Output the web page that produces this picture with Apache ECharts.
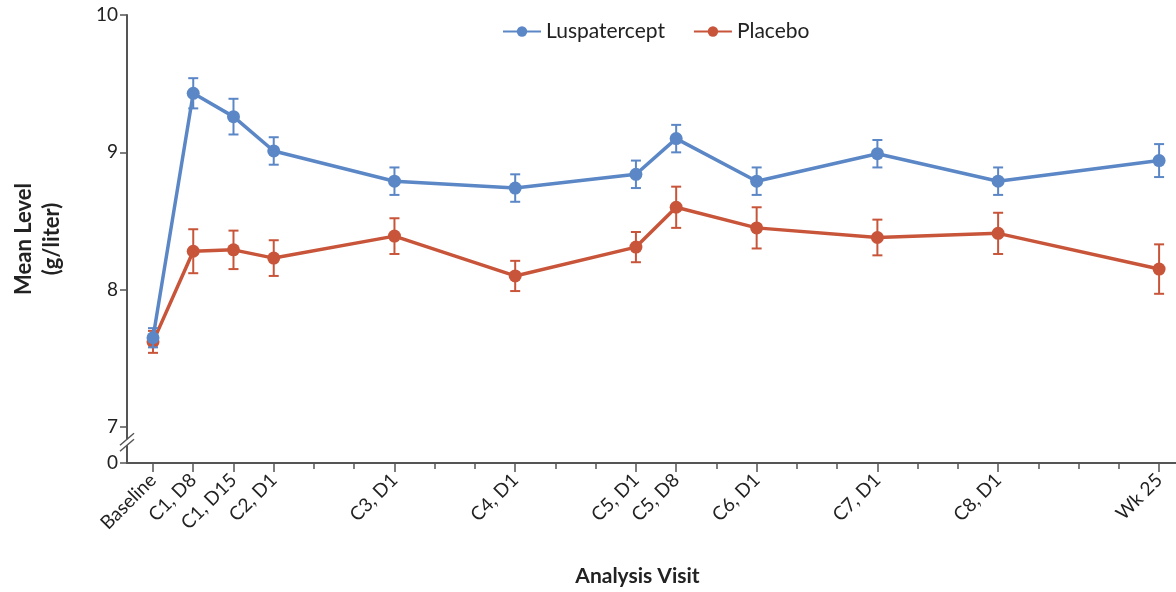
<!DOCTYPE html>
<html>
<head>
<meta charset="utf-8">
<script src="https://cdn.jsdelivr.net/npm/echarts@6/dist/echarts.min.js"></script>
<style>
  html, body { margin: 0; padding: 0; background: #fff; }
  #chart { width: 1176px; height: 592px; }
</style>
</head>
<body>
<div id="chart"></div>
<script>
// Visit positions in study weeks, with their labels
const visitWeeks = [0, 1, 2, 3, 6, 9, 12, 13, 15, 18, 21, 25];
const visitLabels = ['Baseline', 'C1, D8', 'C1, D15', 'C2, D1', 'C3, D1', 'C4, D1', 'C5, D1', 'C5, D8', 'C6, D1', 'C7, D1', 'C8, D1', 'Wk 25'];
const weekTicks = [0,1,2,3,4,5,6,7,8,9,10,11,12,13,14,15,16,17,18,19,20,21,22,23,24,25];

// Mean level (g/liter) and error half-widths
const lusMean = [7.65, 9.43, 9.26, 9.01, 8.79, 8.74, 8.84, 9.10, 8.79, 8.99, 8.79, 8.94];
const lusErr  = [0.07, 0.11, 0.13, 0.10, 0.10, 0.10, 0.10, 0.10, 0.10, 0.10, 0.10, 0.12];
const plaMean = [7.62, 8.28, 8.29, 8.23, 8.39, 8.10, 8.31, 8.60, 8.45, 8.38, 8.41, 8.15];
const plaErr  = [0.08, 0.16, 0.14, 0.13, 0.13, 0.11, 0.11, 0.15, 0.15, 0.13, 0.15, 0.18];

// Y tick values/labels (bottom value stands for the broken-axis zero)
const yBreakValue = 6.738;
const yTickValues = [yBreakValue, 7, 8, 9, 10];
const yTickLabels = ['0', '7', '8', '9', '10'];

const BLUE = '#5b87c6';
const RED = '#c8553a';
const AXIS = '#555555';
const TEXT = '#222222';
const FONT = 'Lato, "Open Sans", sans-serif';
const XMIN = -0.646, XMAX = 25.42;

function pairs(xs, ys) { return xs.map((x, i) => [x, ys[i]]); }
function errData(xs, m, e) { return xs.map((x, i) => [x, m[i] - e[i], m[i] + e[i]]); }

function errRender(color) {
  return function (params, api) {
    const x = api.value(0);
    const lo = api.coord([x, api.value(1)]);
    const hi = api.coord([x, api.value(2)]);
    const cap = 5;
    const style = { stroke: color, lineWidth: 2 };
    return {
      type: 'group',
      children: [
        { type: 'line', shape: { x1: lo[0], y1: lo[1], x2: hi[0], y2: hi[1] }, style },
        { type: 'line', shape: { x1: lo[0] - cap, y1: lo[1], x2: lo[0] + cap, y2: lo[1] }, style },
        { type: 'line', shape: { x1: hi[0] - cap, y1: hi[1], x2: hi[0] + cap, y2: hi[1] }, style }
      ]
    };
  };
}

const chart = echarts.init(document.getElementById('chart'), null, { renderer: 'canvas' });

const option = {
  animation: false,
  backgroundColor: '#ffffff',
  textStyle: { fontFamily: FONT },
  legend: {
    top: 16,
    left: 497,
    itemWidth: 38,
    itemHeight: 13,
    itemGap: 28,
    textStyle: { fontSize: 21, color: TEXT, fontFamily: FONT },
    data: ['Luspatercept', 'Placebo']
  },
  grid: { left: 127, right: 0, top: 15, bottom: 129, containLabel: false, outerBoundsMode: 'none' },
  xAxis: [
    {
      type: 'value',
      min: XMIN,
      max: XMAX,
      name: 'Analysis Visit',
      nameLocation: 'middle',
      nameGap: 103,
      nameTextStyle: { fontSize: 21, fontWeight: 'bold', color: TEXT, fontFamily: FONT, padding: [0, 28, 0, 0] },
      axisLine: { show: true, onZero: false, lineStyle: { color: AXIS, width: 2 } },
      axisTick: { show: true, customValues: visitWeeks, length: 9, lineStyle: { color: AXIS, width: 1.5 } },
      axisLabel: {
        customValues: visitWeeks,
        rotate: 45,
        margin: 14,
        fontSize: 19,
        color: TEXT,
        fontFamily: FONT,
        formatter: function (v) {
          const i = visitWeeks.indexOf(Math.round(v));
          return i >= 0 ? visitLabels[i] : '';
        }
      },
      splitLine: { show: false }
    },
    {
      type: 'value',
      position: 'bottom',
      min: XMIN,
      max: XMAX,
      axisLine: { show: false, onZero: false },
      axisTick: { show: true, customValues: weekTicks, length: 6, lineStyle: { color: AXIS, width: 1.5 } },
      axisLabel: { show: false },
      splitLine: { show: false }
    }
  ],
  yAxis: {
    type: 'value',
    min: yBreakValue,
    max: 10,
    name: 'Mean Level\n(g/liter)',
    nameLocation: 'middle',
    nameRotate: 90,
    nameGap: 61,
    nameTextStyle: { fontSize: 22, fontWeight: 'bold', color: TEXT, fontFamily: FONT, lineHeight: 28 },
    axisLine: { show: true, onZero: false, lineStyle: { color: AXIS, width: 2 } },
    axisTick: { show: true, customValues: yTickValues, length: 7, lineStyle: { color: AXIS, width: 1.5 } },
    axisLabel: {
      customValues: yTickValues,
      margin: 9,
      fontSize: 19,
      color: TEXT,
      fontFamily: FONT,
      formatter: function (v) {
        let best = 0;
        yTickValues.forEach((t, i) => { if (Math.abs(t - v) < Math.abs(yTickValues[best] - v)) best = i; });
        return yTickLabels[best];
      }
    },
    splitLine: { show: false }
  },
  series: [
    {
      name: 'Luspatercept',
      type: 'line',
      data: pairs(visitWeeks, lusMean),
      symbol: 'circle',
      symbolSize: 13,
      itemStyle: { color: BLUE },
      lineStyle: { color: BLUE, width: 3.5 },
      z: 4
    },
    {
      name: 'Luspatercept',
      type: 'custom',
      renderItem: errRender(BLUE),
      data: errData(visitWeeks, lusMean, lusErr),
      encode: { x: 0, y: [1, 2] },
      z: 4
    },
    {
      name: 'Placebo',
      type: 'line',
      data: pairs(visitWeeks, plaMean),
      symbol: 'circle',
      symbolSize: 13,
      itemStyle: { color: RED },
      lineStyle: { color: RED, width: 3.5 },
      z: 3
    },
    {
      name: 'Placebo',
      type: 'custom',
      renderItem: errRender(RED),
      data: errData(visitWeeks, plaMean, plaErr),
      encode: { x: 0, y: [1, 2] },
      z: 3
    }
  ]
};

chart.setOption(option);

// Axis break mark "//" on the y axis between 0 and 7
const breakValue = (yBreakValue + 7) / 2 + 0.02;
const p = chart.convertToPixel({ xAxisIndex: 0, yAxisIndex: 0 }, [XMIN, breakValue]);
const bx = p[0], by = p[1];
chart.setOption({
  graphic: [
    { type: 'rect', shape: { x: bx - 4, y: by - 3, width: 8, height: 6 }, style: { fill: '#fff' }, z: 100 },
    { type: 'line', shape: { x1: bx - 7, y1: by + 3, x2: bx + 7, y2: by - 9 }, style: { stroke: AXIS, lineWidth: 1.5 }, z: 101 },
    { type: 'line', shape: { x1: bx - 7, y1: by + 9, x2: bx + 7, y2: by - 3 }, style: { stroke: AXIS, lineWidth: 1.5 }, z: 101 }
  ]
});
</script>
</body>
</html>
